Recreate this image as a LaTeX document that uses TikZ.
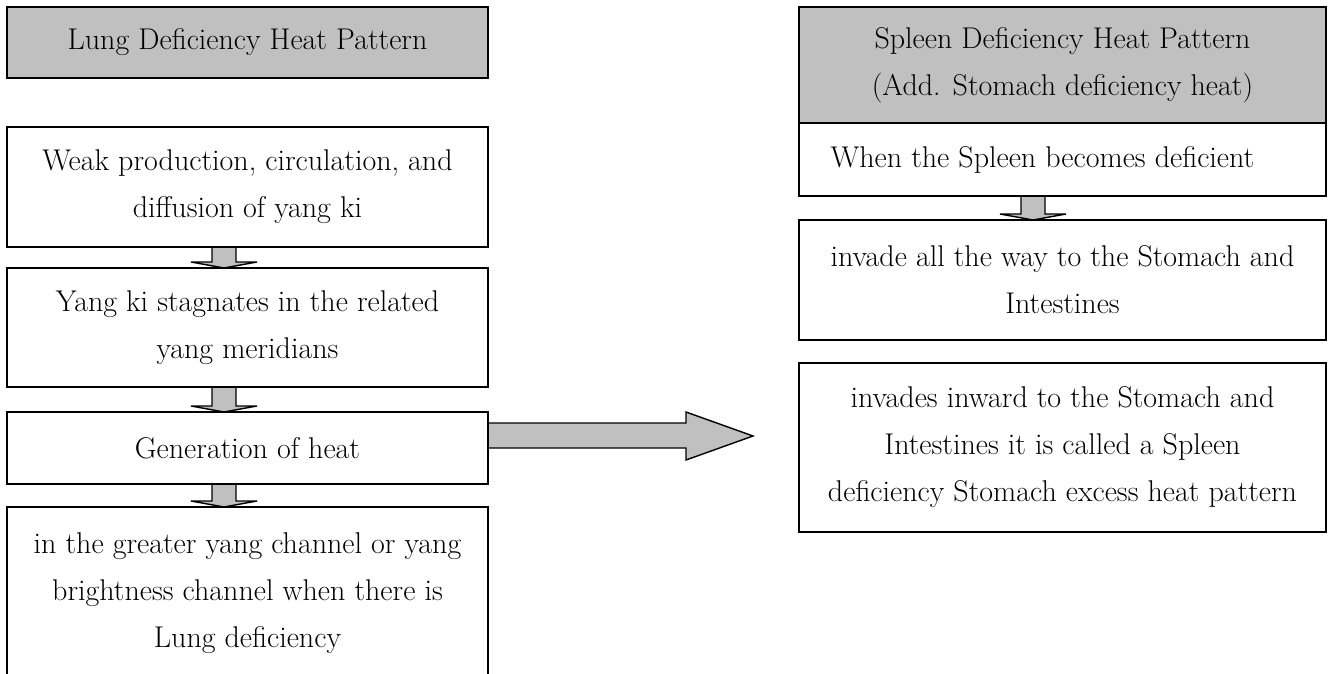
\documentclass[tikz,border=0pt]{standalone}
\usetikzlibrary{calc,backgrounds}
\definecolor{boxgray}{RGB}{192,192,192}
\tikzset{
  box/.style={draw, line width=1.4pt, fill=white, align=center, inner sep=0pt,
    outer sep=0pt, font=\fontsize{30}{47}\selectfont},
  leftbox/.style={box, minimum width=481pt},
  rightbox/.style={box, minimum width=527pt},
  titlebox/.style={fill=boxgray},
  blockarr/.style={draw, line width=1.4pt, fill=boxgray, line join=miter}
}
% down block arrow: from node, to node, offset of its axis from the centre
\newcommand{\blockdown}[3]{%
  \draw[blockarr] let \p1=($(#1.south)+(#3,0)$), \p2=(#2.north) in
    (\x1-12pt,\y1) -- (\x1-12pt,\y2+6pt) -- (\x1-33pt,\y2+6pt) -- (\x1,\y2)
    -- (\x1+33pt,\y2+6pt) -- (\x1+12pt,\y2+6pt) -- (\x1+12pt,\y1) -- cycle;}
\begin{document}
\begin{tikzpicture}[x=1pt, y=-1pt]
\useasboundingbox (0,0) rectangle (1328,674);
% left column
\node[leftbox, titlebox, minimum height=71pt] (lung) at (247.5,42.5) {Lung Deficiency Heat Pattern};
\node[leftbox, minimum height=120pt] (weak) at (247.5,187) {Weak production, circulation, and\\ diffusion of yang ki};
\node[leftbox, minimum height=119pt] (stag) at (247.5,327.5) {Yang ki stagnates in the related\\ yang meridians};
\node[leftbox, minimum height=72pt] (heat) at (247.5,448) {Generation of heat};
\node[leftbox, draw=none, minimum height=173pt] (chan) at (247.5,593.5) {in the greater yang channel or yang\\ brightness channel when there is\\ Lung deficiency};
\draw[line width=1.4pt] (chan.south west) -- (chan.north west) -- (chan.north east) -- (chan.south east);
% right column
\node[rightbox, titlebox, minimum height=116pt] (spleen) at (1062.5,65) {Spleen Deficiency Heat Pattern\\ (Add. Stomach deficiency heat)};
\node[rightbox, minimum height=73pt] (when) at (1062.5,159.5) {When the Spleen becomes deficient\hspace*{40pt}};
\node[rightbox, minimum height=120pt] (invade) at (1062.5,280) {invade all the way to the Stomach and\\ Intestines};
\node[rightbox, minimum height=169pt] (inward) at (1062.5,447.5) {invades inward to the Stomach and\\ Intestines it is called a Spleen\\ deficiency Stomach excess heat pattern};
\coordinate (tip) at ($(heat.east)+(265,-12)$);
% arrows
\begin{pgfonlayer}{background}
\blockdown{weak}{stag}{-23.5}
\blockdown{stag}{heat}{-23.5}
\blockdown{heat}{chan}{-23.5}
\blockdown{when}{invade}{-29.5}
\draw[blockarr] (heat.east) ++(0,-25) -- ++(198,0) -- ++(0,-11) -- (tip)
  -- ($(heat.east)+(198,12)$) -- ++(0,-12) -- (heat.east) -- cycle;
\end{pgfonlayer}
\end{tikzpicture}
\end{document}
